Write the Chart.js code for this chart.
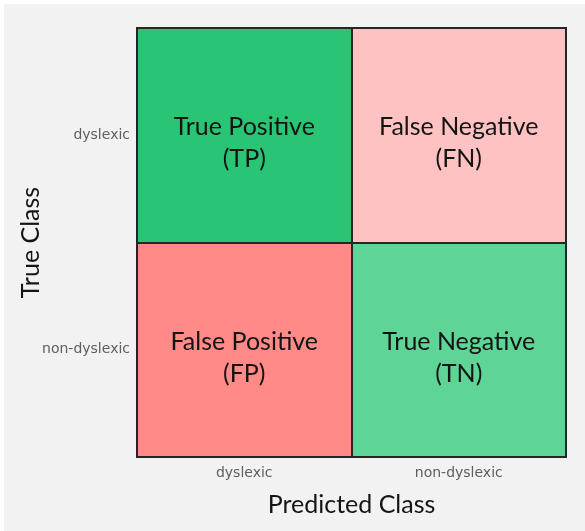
<!DOCTYPE html>
<html>
<head>
<meta charset="utf-8">
<script src="https://cdn.jsdelivr.net/npm/chart.js@4"></script>
<style>
  html, body { margin: 0; padding: 0; background: #ffffff; }
  #wrap {
    position: absolute; left: 4px; top: 4px;
    width: 581px; height: 527px;
    background: #f1f2f1;
  }
</style>
</head>
<body>
<div id="wrap"><canvas id="chart-confusion"></canvas></div>
<script>
// Confusion matrix data
const predictedLabels = ['dyslexic', 'non-dyslexic'];
const trueLabels = ['dyslexic', 'non-dyslexic'];          // top row first
const topRowNames = ['True Positive', 'False Negative'];
const topRowAbbr = ['(TP)', '(FN)'];
const bottomRowNames = ['False Positive', 'True Negative'];
const bottomRowAbbr = ['(FP)', '(TN)'];
const cellSize = [1, 1];
const topRowColors = ['#29c574', '#ffc2c2'];
const bottomRowColors = ['#ff8a87', '#5fd497'];

const LINE = '#262626';

const cellText = {
  id: 'cellText',
  afterDatasetsDraw(chart) {
    const ctx = chart.ctx;
    const a = chart.chartArea;
    const xs = chart.scales.x;
    const ys = chart.scales.y;
    ctx.save();

    // frame and dividers between cells
    ctx.strokeStyle = LINE;
    ctx.lineWidth = 2;
    ctx.strokeRect(a.left, a.top, a.right - a.left, a.bottom - a.top);
    const midX = Math.round((xs.getPixelForValue(0) + xs.getPixelForValue(1)) / 2);
    const midY = Math.round(ys.getPixelForValue(1));
    ctx.beginPath();
    ctx.moveTo(midX, a.top);
    ctx.lineTo(midX, a.bottom);
    ctx.moveTo(a.left, midY);
    ctx.lineTo(a.right, midY);
    ctx.stroke();

    ctx.fillStyle = '#141414';
    ctx.font = '25px Lato';
    ctx.textAlign = 'center';
    ctx.textBaseline = 'middle';
    chart.data.datasets.forEach((ds, i) => {
      const meta = chart.getDatasetMeta(i);
      meta.data.forEach((bar, j) => {
        const cy = (bar.y + bar.base) / 2;
        ctx.fillText(ds.names[j], bar.x, cy - 8);
        ctx.fillText(ds.abbr[j], bar.x, cy + 24);
      });
    });
    ctx.restore();
  }
};

const chart = new Chart(document.getElementById('chart-confusion'), {
  type: 'bar',
  data: {
    labels: predictedLabels,
    datasets: [
      {
        label: trueLabels[1],
        data: cellSize,
        names: bottomRowNames,
        abbr: bottomRowAbbr,
        backgroundColor: bottomRowColors,
        borderWidth: 0
      },
      {
        label: trueLabels[0],
        data: cellSize,
        names: topRowNames,
        abbr: topRowAbbr,
        backgroundColor: topRowColors,
        borderWidth: 0
      }
    ]
  },
  options: {
    responsive: true,
    maintainAspectRatio: false,
    animation: false,
    barPercentage: 1,
    categoryPercentage: 1,
    layout: { padding: { top: 24, right: 19, left: 0, bottom: 0 } },
    plugins: {
      legend: { display: false },
      tooltip: { enabled: false }
    },
    scales: {
      x: {
        stacked: true,
        grid: { display: false, drawTicks: false },
        border: { display: false },
        ticks: {
          color: '#5e5e5e',
          padding: 8,
          font: { family: 'DejaVu Sans', size: 14 }
        },
        title: {
          display: true,
          text: 'Predicted Class',
          color: '#141414',
          font: { family: 'Lato', size: 25 },
          padding: { top: 0, bottom: 11 }
        },
        afterFit: s => { s.height = 74; }
      },
      y: {
        stacked: true,
        min: 0,
        max: 2,
        grid: { display: false, drawTicks: false },
        border: { display: false },
        afterBuildTicks: s => { s.ticks = [{ value: 0.5 }, { value: 1.5 }]; },
        ticks: {
          color: '#5e5e5e',
          padding: 7,
          font: { family: 'DejaVu Sans', size: 14 },
          callback: v => (v > 1 ? trueLabels[0] : trueLabels[1])
        },
        title: {
          display: true,
          text: 'True Class',
          color: '#141414',
          font: { family: 'Lato', size: 25 },
          padding: { top: 12, bottom: 0 }
        },
        afterFit: s => { s.width = 133; }
      }
    }
  },
  plugins: [cellText]
});
</script>
</body>
</html>
